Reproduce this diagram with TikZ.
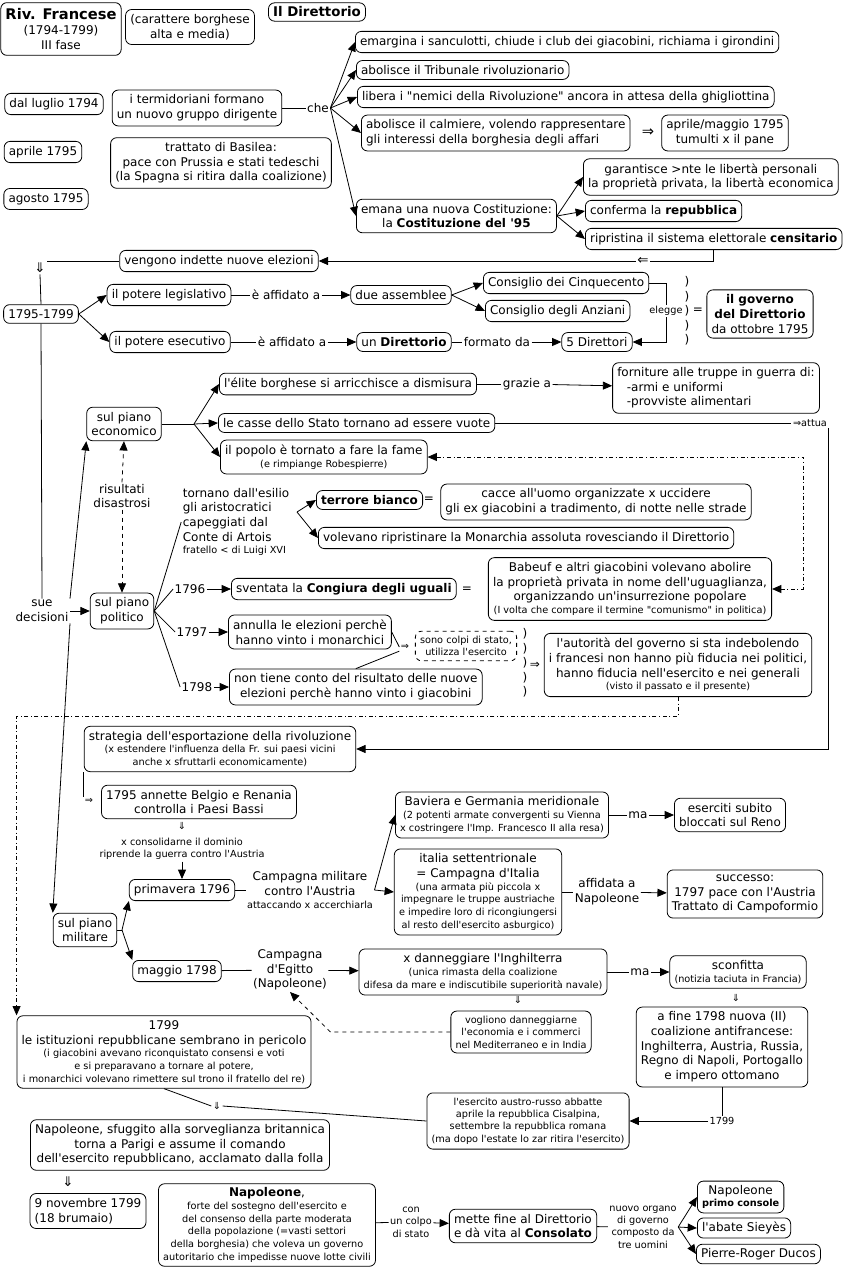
\documentclass[tikz,border=0pt]{standalone}
\usepackage{fontspec}
\setmainfont{DejaVu Sans}[Ligatures=TeXOff]
\usetikzlibrary{arrows.meta,calc}
\tikzset{
  cmarr/.style={-{Triangle[length=7pt,width=6pt]}, line width=0.6pt},
  cmarrb/.style={{Triangle[length=7pt,width=6pt]}-{Triangle[length=7pt,width=6pt]}, line width=0.6pt},
  cmline/.style={line width=0.6pt},
  cmbox/.style={draw, line width=0.6pt, rounded corners=4.5pt, align=center, inner xsep=3.5pt, inner ysep=3.6pt},
  cmsmall/.style={font=\fontsize{7.3}{9.3}\selectfont},
}
\newcommand{\cmsm}{\fontsize{7.3}{9.3}\selectfont}

\begin{document}
\begin{tikzpicture}[
  x=0.75pt, y=-0.75pt,
  font=\fontsize{9}{11}\selectfont,
  lbl/.style={align=center, inner sep=1pt},
  paren/.style={align=center, inner sep=0pt, font=\fontsize{9}{10.8}\selectfont},
]
  \useasboundingbox (0,0) rectangle (845,1270);

  \node[cmbox, font=\fontsize{9}{11.5}\selectfont, inner ysep=4pt] (rivoluzione) at (61,29) {{\fontsize{11}{13}\selectfont\bfseries Riv. Francese}\\(1794-1799)\\III fase};
  \node[cmbox] (carattere) at (190,27) {(carattere borghese\\alta e media)};
  \node[cmbox, font=\fontsize{10}{12}\selectfont\bfseries, inner ysep=3pt] (titolo) at (317,12) {Il Direttorio};

  \node[cmbox] (luglio) at (54,104) {dal luglio 1794};
  \node[cmbox] (aprile) at (43,152) {aprile 1795};
  \node[cmbox] (agosto) at (46,199) {agosto 1795};
  \node[cmbox] (termidoriani) at (197,108) {i termidoriani formano\\un nuovo gruppo dirigente};
  \node[cmbox] (basilea) at (221,163) {trattato di Basilea:\\pace con Prussia e stati tedeschi\\(la Spagna si ritira dalla coalizione)};
  \node[lbl] (che) at (318,108) {che};

  \node[cmbox, anchor=west] (emargina) at (355,42) {emargina i sanculotti, chiude i club dei giacobini, richiama i girondini};
  \node[cmbox, anchor=west] (tribunale) at (356,70) {abolisce il Tribunale rivoluzionario};
  \node[cmbox, anchor=west] (libera) at (357,97) {libera i "nemici della Rivoluzione" ancora in attesa della ghigliottina};
  \node[cmbox, anchor=west, align=left] (calmiere) at (361,133) {abolisce il calmiere, volendo rappresentare\\gli interessi della borghesia degli affari};
  \node[lbl, font=\fontsize{11}{13}\selectfont] (impl1) at (648,133) {⇒};
  \node[cmbox] (tumulti) at (725,133) {aprile/maggio 1795\\tumulti x il pane};
  \node[cmbox, anchor=west] (costituzione) at (356,216) {emana una nuova Costituzione:\\la \textbf{Costituzione del '95}};
  \node[cmbox, anchor=west] (garantisce) at (583,177) {garantisce >nte le libertà personali\\la proprietà privata, la libertà economica};
  \node[cmbox, anchor=west] (repubblica) at (585,211) {conferma la \textbf{repubblica}};
  \node[cmbox, anchor=west] (censitario) at (585,239) {ripristina il sistema elettorale \textbf{censitario}};
  \node[lbl, font=\fontsize{10}{12}\selectfont] (ritorno) at (643,261) {⇐};
  \node[cmbox] (elezioni) at (219,261) {vengono indette nuove elezioni};
  \node[lbl, font=\fontsize{10}{12}\selectfont] (giu1) at (40,268) {⇓};

  \draw[cmline] (termidoriani) -- (che);
  \draw[cmarr] (che.east) -- (emargina.west);
  \draw[cmarr] (che.east) -- (tribunale.west);
  \draw[cmarr] (che.east) -- (libera.west);
  \draw[cmarr] (che.east) -- (calmiere.west);
  \draw[cmarr] (che.east) -- (costituzione.west);
  \draw[cmarr] (costituzione.east) -- (garantisce.west);
  \draw[cmarr] (costituzione.east) -- (repubblica.west);
  \draw[cmarr] (costituzione.east) -- (censitario.west);
  \draw[cmline] (censitario.south) |- (ritorno.east);
  \draw[cmarr] (ritorno.west) -- (elezioni.east);
  \draw[cmline] (elezioni.west) -- (elezioni.west -| giu1.east);

  \node[cmbox] (anni) at (41,314) {1795-1799};
  \node[cmbox] (legislativo) at (169,295) {il potere legislativo};
  \node[cmbox] (esecutivo) at (170,342) {il potere esecutivo};
  \node[lbl] (affidato1) at (286,295) {è affidato a};
  \node[lbl] (affidato2) at (292,342) {è affidato a};
  \node[cmbox] (assemblee) at (401,295) {due assemblee};
  \node[cmbox] (direttorio) at (404,342) {un \textbf{Direttorio}};
  \node[cmbox, anchor=west] (cinquecento) at (483,283) {Consiglio dei Cinquecento};
  \node[cmbox, anchor=west] (anziani) at (485,311) {Consiglio degli Anziani};
  \node[lbl] (formato) at (497,342) {formato da};
  \node[cmbox] (direttori) at (597,342) {5 Direttori};
  \node[lbl, cmsmall, fill=white] (elegge) at (666,311) {elegge};
  \node[paren] (parent1) at (687,311) {)\\)\\)\\)\\)};
  \node[lbl] (uguale1) at (698,311) {=};
  \node[cmbox] (governo) at (760,314) {\textbf{il governo}\\\textbf{del Direttorio}\\da ottobre 1795};

  \draw[cmline] (giu1.south) -- (anni.north);
  \draw[cmarr] (anni.east) -- (legislativo.west);
  \draw[cmarr] (anni.east) -- (esecutivo.west);
  \draw[cmline] (legislativo) -- (affidato1);
  \draw[cmarr] (affidato1) -- (assemblee);
  \draw[cmline] (esecutivo) -- (affidato2);
  \draw[cmarr] (affidato2) -- (direttorio);
  \draw[cmarr] (assemblee.east) -- (cinquecento.west);
  \draw[cmarr] (assemblee.east) -- (anziani.west);
  \draw[cmline] (direttorio) -- (formato);
  \draw[cmarr] (formato) -- (direttori);
  \draw[cmline] (cinquecento.east) -| (elegge.north);
  \draw[cmarr] (elegge.south) |- (direttori.east);

  \node[cmbox] (economico) at (124,424) {sul piano\\economico};
  \coordinate (ecodot) at (194,424);
  \node[cmbox, anchor=west] (elite) at (219,384) {l'élite borghese si arricchisce a dismisura};
  \node[lbl] (grazie) at (527,384) {grazie a};
  \node[cmbox, align=left] (forniture) at (716,388) {forniture alle truppe in guerra di:\\\hspace*{0.8em}-armi e uniformi\\\hspace*{0.8em}-provviste alimentari};
  \node[cmbox, anchor=west] (casse) at (218,423) {le casse dello Stato tornano ad essere vuote};
  \node[lbl, cmsmall] (attua) at (810,423) {⇒attua};
  \node[cmbox, anchor=west] (popolo) at (220,457) {il popolo è tornato a fare la fame\\[-1.5pt]{\cmsm (e rimpiange Robespierre)}};

  \draw[cmline] (economico.east) -- (ecodot);
  \draw[cmarr] (ecodot) -- (elite.west);
  \draw[cmarr] (ecodot) -- (casse.west);
  \draw[cmarr] (ecodot) -- (popolo.west);
  \draw[cmline] (elite) -- (grazie);
  \draw[cmarr] (grazie) -- (forniture);
  \draw[cmline] (casse.east) -- (attua.west);

  \node[lbl] (risultati) at (122,496) {risultati\\disastrosi};
  \node[cmbox] (politico) at (122,611) {sul piano\\politico};
  \node[lbl] (decisioni) at (42,611) {sue\\decisioni};
  \node[lbl, align=left] (aristocratici) at (236,522) {tornano dall'esilio\\gli aristocratici\\capeggiati dal\\Conte di Artois\\[-1.5pt]{\cmsm fratello < di Luigi XVI}};
  \coordinate (aridot) at (297,512);
  \node[cmbox, anchor=west] (terrore) at (316,500) {\textbf{terrore bianco}};
  \node[lbl] (uguale2) at (429,500) {=};
  \node[cmbox] (cacce) at (596,502) {cacce all'uomo organizzate x uccidere\\gli ex giacobini a tradimento, di notte nelle strade};
  \node[cmbox, anchor=west] (volevano) at (318,538) {volevano ripristinare la Monarchia assoluta rovesciando il Direttorio};
  \node[lbl] (a1796) at (190,589) {1796};
  \node[cmbox, anchor=west] (congiura) at (231,589) {sventata la \textbf{Congiura degli uguali}};
  \node[lbl] (uguale3) at (467,590) {=};
  \node[cmbox] (babeuf) at (630,589) {Babeuf e altri giacobini volevano abolire\\la proprietà privata in nome dell'uguaglianza,\\organizzando un'insurrezione popolare\\[-1.5pt]{\cmsm (I volta che compare il termine "comunismo" in politica)}};
  \node[lbl] (a1797) at (192,632) {1797};
  \node[cmbox, anchor=west] (annulla) at (228,632) {annulla le elezioni perchè\\hanno vinto i monarchici};
  \node[lbl] (a1798) at (197,687) {1798};
  \node[cmbox, anchor=west] (nontiene) at (229,687) {non tiene conto del risultato delle nuove\\elezioni perchè hanno vinto i giacobini};
  \node[lbl, cmsmall] (impl2) at (405,647) {⇒};
  \node[cmbox, cmsmall, dashed] (colpi) at (466,646) {sono colpi di stato,\\utilizza l'esercito};
  \node[paren] (parent2) at (525,663) {)\\)\\)\\)\\)};
  \node[lbl] (impl3) at (535,665) {⇒};
  \node[cmbox] (autorita) at (678,665) {l'autorità del governo si sta indebolendo\\i francesi non hanno più fiducia nei politici,\\hanno fiducia nell'esercito e nei generali\\[-1.5pt]{\cmsm (visto il passato e il presente)}};

  \draw[cmarr, dashed] (risultati.north) -- (economico.south);
  \draw[cmarr, dashed] (risultati.south) -- (politico.north);
  \draw[cmarrb, dashdotted] (popolo.east) -| ($(babeuf.east)+(31,0)$) -- (babeuf.east);
  \draw[cmline] (anni.south) -- (decisioni.north);
  \draw[cmarr] (decisioni.east) -- (politico.west);
  \draw[cmarr] (decisioni.north east) -- (economico.south west);
  \draw[cmline] (politico.east) -- (aristocratici.west);
  \draw[cmarr] (aridot) -- (terrore.west);
  \draw[cmarr] (aridot) -- (volevano.west);
  \draw[cmline] (politico.east) -- (a1796.west);
  \draw[cmline] (politico.east) -- (a1797.west);
  \draw[cmline] (politico.east) -- (a1798.west);
  \draw[cmarr] (a1796) -- (congiura);
  \draw[cmarr] (a1797) -- (annulla);
  \draw[cmarr] (a1798) -- (nontiene);
  \draw[cmline] (annulla.east) -- (impl2.west);
  \draw[cmline] (nontiene.north) -- (impl2.south west);

  \node[cmbox] (strategia) at (220,749) {strategia dell'esportazione della rivoluzione\\[-1.5pt]{\cmsm (x estendere l'influenza della Fr. sui paesi vicini}\\[-1.5pt]{\cmsm anche x sfruttarli economicamente)}};
  \node[lbl, cmsmall] (impl4) at (89,801) {⇒};
  \node[cmbox] (annette) at (199,802) {1795 annette Belgio e Renania\\controlla i Paesi Bassi};
  \node[lbl, cmsmall] (giu2) at (182,826) {⇓};
  \node[lbl, cmsmall] (consolidare) at (182,849) {x consolidarne il dominio\\riprende la guerra contro l'Austria};
  \node[cmbox] (primavera) at (182,890) {primavera 1796};
  \node[cmbox] (militare) at (85,930) {sul piano\\militare};
  \coordinate (mildot) at (122,930);
  \node[cmbox] (maggio) at (177,971) {maggio 1798};
  \node[lbl] (campaustria) at (310,890) {Campagna militare\\contro l'Austria\\[-1.5pt]{\cmsm attaccando x accerchiarla}};
  \node[cmbox] (baviera) at (502,815) {Baviera e Germania meridionale\\[-1.5pt]{\cmsm (2 potenti armate convergenti su Vienna}\\[-1.5pt]{\cmsm x costringere l'Imp. Francesco II alla resa)}};
  \node[lbl] (ma1) at (638,815) {ma};
  \node[cmbox] (eserciti) at (730,815) {eserciti subito\\bloccati sul Reno};
  \node[cmbox] (italia) at (478,892) {italia settentrionale\\= Campagna d'Italia\\[-1.5pt]{\cmsm (una armata più piccola x}\\[-1.5pt]{\cmsm impegnare le truppe austriache}\\[-1.5pt]{\cmsm e impedire loro di ricongiungersi}\\[-1.5pt]{\cmsm al resto dell'esercito asburgico)}};
  \node[lbl] (affidata) at (607,892) {affidata a\\Napoleone};
  \node[cmbox] (successo) at (745,894) {successo:\\1797 pace con l'Austria\\Trattato di Campoformio};
  \node[lbl] (campegitto) at (290,970) {Campagna\\d'Egitto\\(Napoleone)};
  \node[cmbox] (inghilterra) at (483,972) {x danneggiare l'Inghilterra\\[-1.5pt]{\cmsm (unica rimasta della coalizione}\\[-1.5pt]{\cmsm difesa da mare e indiscutibile superiorità navale)}};
  \node[lbl] (ma2) at (640,972) {ma};
  \node[cmbox] (sconfitta) at (738,972) {sconfitta\\[-1.5pt]{\cmsm (notizia taciuta in Francia)}};
  \node[lbl, cmsmall] (giu3) at (518,1000) {⇓};
  \node[cmbox, cmsmall] (vogliono) at (521,1032) {vogliono danneggiarne\\l'economia e i commerci\\nel Mediterraneo e in India};
  \node[lbl, cmsmall] (giu4) at (736,998) {⇓};
  \node[cmbox] (coalizione) at (722,1047) {a fine 1798 nuova (II)\\coalizione antifrancese:\\Inghilterra, Austria, Russia,\\Regno di Napoli, Portogallo\\e impero ottomano};
  \node[lbl, cmsmall] (a1799) at (722,1121) {1799};
  \node[cmbox, cmsmall] (austro) at (528,1121) {l'esercito austro-russo abbatte\\aprile la repubblica Cisalpina,\\settembre la repubblica romana\\(ma dopo l'estate lo zar ritira l'esercito)};
  \node[cmbox] (istituzioni) at (164,1052) {1799\\le istituzioni repubblicane sembrano in pericolo\\[-1.5pt]{\cmsm (i giacobini avevano riconquistato consensi e voti}\\[-1.5pt]{\cmsm e si preparavano a tornare al potere,}\\[-1.5pt]{\cmsm i monarchici volevano rimettere sul trono il fratello del re)}};

  \draw[cmarr] (attua.south east) |- (strategia.east);
  \draw[cmarr, dashdotted] (autorita.south) -- ++(0,19) -| (istituzioni.north west);
  \draw[cmline] (strategia.south west) -- (strategia.south west |- impl4.north);
  \draw[cmarr] (consolidare.south) -- (primavera.north);
  \draw[cmarr] (decisioni.south east) -- (militare.north west);
  \draw[cmline] (militare.east) -- (mildot);
  \draw[cmarr] (mildot) -- (primavera.south west);
  \draw[cmarr] (mildot) -- (maggio.north west);
  \draw[cmline] (primavera) -- (campaustria);
  \draw[cmarr] (campaustria.east) -- (baviera.west);
  \draw[cmarr] (campaustria.east) -- (italia.west);
  \draw[cmline] (baviera) -- (ma1);
  \draw[cmarr] (ma1) -- (eserciti);
  \draw[cmline] (italia) -- (affidata);
  \draw[cmarr] (affidata) -- (successo);
  \draw[cmline] (maggio) -- (campegitto);
  \draw[cmarr] (campegitto) -- (inghilterra);
  \draw[cmline] (inghilterra) -- (ma2);
  \draw[cmarr] (ma2) -- (sconfitta);
  \draw[cmarr, dashed] (vogliono.west) -- ++(-120,0) -- (campegitto.south);
  \draw[cmline] (coalizione.south) -- (a1799.north);
  \draw[cmarr] (a1799.west) -- (austro.east);

  \node[lbl, cmsmall] (giu5) at (217,1106) {⇓};
  \node[cmbox] (sfuggito) at (180,1145) {Napoleone, sfuggito alla sorveglianza britannica\\torna a Parigi e assume il comando\\dell'esercito repubblicano, acclamato dalla folla};
  \node[lbl, font=\fontsize{10}{12}\selectfont] (giu6) at (68,1182) {⇓};
  \node[cmbox, align=left] (brumaio) at (88,1211) {9 novembre 1799\\(18 brumaio)};
  \node[cmbox, inner ysep=3pt] (forte) at (267,1225) {\textbf{Napoleone},\\[-1.5pt]{\cmsm forte del sostegno dell'esercito e}\\[-1.5pt]{\cmsm del consenso della parte moderata}\\[-1.5pt]{\cmsm della popolazione (=vasti settori}\\[-1.5pt]{\cmsm della borghesia) che voleva un governo}\\[-1.5pt]{\cmsm autoritario che impedisse nuove lotte civili}};
  \node[lbl, cmsmall] (colpo) at (411,1222) {con\\un colpo\\di stato};
  \node[cmbox] (consolato) at (523,1226) {mette fine al Direttorio\\e dà vita al \textbf{Consolato}};
  \node[lbl, cmsmall] (organo) at (643,1227) {nuovo organo\\di governo\\composto da\\tre uomini};
  \node[cmbox, anchor=west, inner ysep=3pt] (primoconsole) at (697,1197) {Napoleone\\[-1.5pt]{\cmsm\bfseries primo console}};
  \node[cmbox, anchor=west, inner ysep=3pt] (sieyes) at (697,1228) {l'abate Sieyès};
  \node[cmbox, anchor=west, inner ysep=3pt] (ducos) at (696,1254) {Pierre-Roger Ducos};

  \draw[cmline] (istituzioni.south) -- (giu5.west);
  \draw[cmline] (giu5.east) -- (austro.west);
  \draw[cmline] (forte) -- (colpo);
  \draw[cmarr] (colpo) -- (consolato);
  \draw[cmline] (consolato) -- (organo);
  \draw[cmarr] (organo.east) -- (primoconsole.west);
  \draw[cmarr] (organo.east) -- (sieyes.west);
  \draw[cmarr] (organo.east) -- (ducos.west);
\end{tikzpicture}
\end{document}
